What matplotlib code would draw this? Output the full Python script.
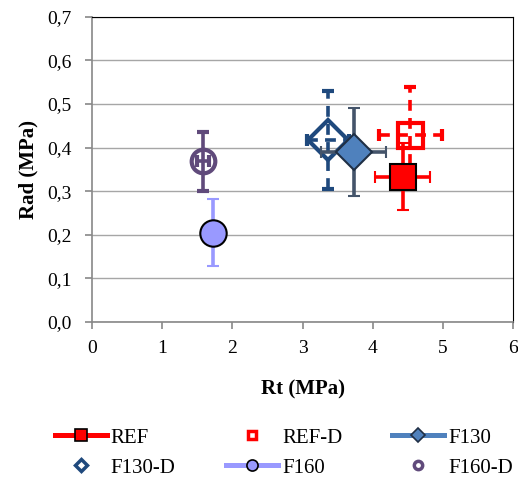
import matplotlib.pyplot as plt
from matplotlib.lines import Line2D

plt.rcParams['font.family'] = ['Liberation Serif', 'DejaVu Serif']

# Data (Rt, Rad in MPa)
names = ['REF', 'REF-D', 'F130', 'F130-D', 'F160', 'F160-D']
rt = [4.43, 4.54, 3.73, 3.36, 1.72, 1.58]
rad = [0.333, 0.429, 0.390, 0.417, 0.205, 0.369]
rt_err = [0.39, 0.45, 0.46, 0.30, 0.0, 0.08]
rad_err = [0.077, 0.11, 0.10, 0.112, 0.076, 0.068]

x_ticks = [0, 1, 2, 3, 4, 5, 6]
y_ticks = [0.0, 0.1, 0.2, 0.3, 0.4, 0.5, 0.6, 0.7]

# style per series: marker, face, edge, err colour, dashed, size, line colour for legend
styles = {
    'REF':    dict(m='s', fc='#FF0000', ec='black', err='#FF0000', dash=False, ms=19, line='#FF0000'),
    'REF-D':  dict(m='s', fc='none', ec='#FF0000', err='#FF0000', dash=True, ms=18, line=None),
    'F130':   dict(m='D', fc='#4F81BD', ec='#1F2F45', err='#44546A', dash=False, ms=18, line='#4F81BD'),
    'F130-D': dict(m='D', fc='none', ec='#1F497D', err='#1F497D', dash=True, ms=20, line=None),
    'F160':   dict(m='o', fc='#9999FF', ec='black', err='#9999FF', dash=False, ms=19, line='#9999FF'),
    'F160-D': dict(m='o', fc='none', ec='#604A7B', err='#604A7B', dash=False, ms=17, line=None),
}
order = ['REF-D', 'REF', 'F130-D', 'F130', 'F160-D', 'F160']

fig = plt.figure(figsize=(5.18, 4.82), dpi=100)
ax = fig.add_axes([0.178, 0.332, 0.812, 0.633])

for z, n in enumerate(order):
    i = names.index(n)
    s = styles[n]
    mew = 3 if s['fc'] == 'none' else 1.5
    eb = ax.errorbar(rt[i], rad[i], xerr=rt_err[i] if rt_err[i] > 0 else None,
                     yerr=rad_err[i], fmt=s['m'], ms=s['ms'], mfc=s['fc'], mec=s['ec'],
                     mew=mew, ecolor=s['err'], elinewidth=2.6, capsize=4.5, capthick=2.6,
                     zorder=3 + z)
    if s['dash']:
        for lc in eb[2]:
            lc.set_linestyle((0, (3, 2)))

ax.set_xlim(0, 6)
ax.set_ylim(0, 0.7)
ax.set_xticks(x_ticks)
ax.set_yticks(y_ticks)
ax.set_xticklabels([str(v) for v in x_ticks], fontsize=14, family='Liberation Serif')
ax.set_yticklabels([f'{v:.1f}'.replace('.', ',') for v in y_ticks], fontsize=14,
                   family='Liberation Serif')
ax.grid(axis='y', color='#A6A6A6', linewidth=1)
ax.set_axisbelow(True)
for sp in ['left', 'bottom']:
    ax.spines[sp].set_color('#888888')
    ax.spines[sp].set_linewidth(1.2)
for sp in ['top', 'right']:
    ax.spines[sp].set_color('black')
ax.tick_params(colors='#888888', labelcolor='black', length=5, width=1.2)
ax.tick_params(axis='y', pad=10)
ax.tick_params(axis='x', pad=8)
ax.set_xlabel('Rt (MPa)', fontsize=15, fontweight='bold', labelpad=16)
ax.set_ylabel('Rad (MPa)', fontsize=15, fontweight='bold', labelpad=6)

handles = []
for n in names:
    s = styles[n]
    if s['fc'] == 'none':
        hms, hmew = 6, 2.5
    else:
        hms, hmew = (7 if s['m'] == 'D' else 8), 1.2
    handles.append(Line2D([], [], color=s['line'] if s['line'] else 'none', lw=3.6,
                          marker=s['m'], ms=hms, mfc=s['fc'], mec=s['ec'], mew=hmew))
# matplotlib fills legend columns first; reorder so rows read like the reference
ncol = 3
idx = [r * ncol + c for c in range(ncol) for r in range(2)]
fig.legend([handles[k] for k in idx], [names[k] for k in idx], loc='lower center',
           bbox_to_anchor=(0.548, -0.03), ncol=ncol, frameon=False, fontsize=15,
           handlelength=2.5, columnspacing=2.4, handletextpad=0.2, labelspacing=0.5)

fig.savefig('out.png', dpi=100)
